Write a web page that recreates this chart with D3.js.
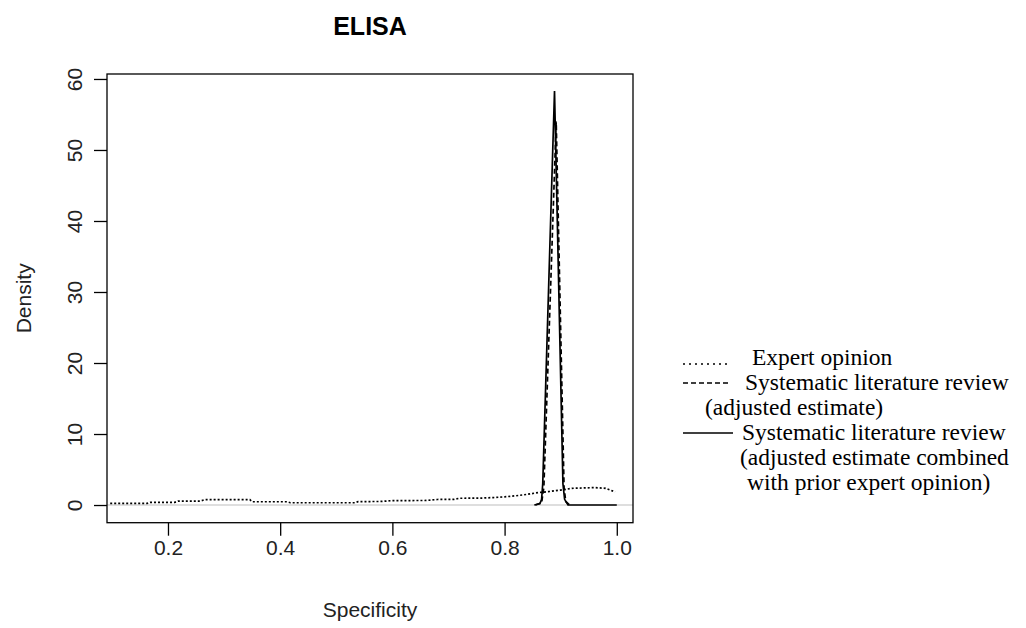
<!DOCTYPE html>
<html>
<head>
<meta charset="utf-8">
<script src="https://cdn.jsdelivr.net/npm/d3@7/dist/d3.min.js"></script>
<style>
  html, body { margin: 0; padding: 0; background: #fff; }
  svg { display: block; }
</style>
</head>
<body>
<svg id="chart" width="1026" height="628"></svg>
<script>
// Specificity values and densities for each prior/posterior
const expertX = [0.097, 0.163, 0.168, 0.212, 0.218, 0.257, 0.266, 0.346, 0.350, 0.412, 0.418, 0.533, 0.539, 0.58, 0.60, 0.66, 0.68, 0.71, 0.72, 0.76, 0.78, 0.80, 0.82, 0.84, 0.86, 0.88, 0.90, 0.92, 0.94, 0.96, 0.98, 0.997];
const expertY = [0.24, 0.24, 0.38, 0.38, 0.56, 0.56, 0.75, 0.75, 0.46, 0.46, 0.32, 0.32, 0.48, 0.50, 0.62, 0.64, 0.78, 0.80, 0.95, 0.98, 1.05, 1.15, 1.30, 1.50, 1.75, 1.90, 2.10, 2.35, 2.40, 2.45, 2.35, 1.85];

const litX = [0.855, 0.866, 0.870, 0.892, 0.906, 0.909, 0.916];
const litY = [0, 0.3, 2.5, 54.0, 2.5, 0.5, 0];

const combX = [0.853, 0.863, 0.866, 0.868, 0.889, 0.904, 0.907, 0.913, 1.0];
const combY = [0, 0.2, 0.8, 3.0, 58.3, 3.0, 0.8, 0, 0];

const xTicks = [0.2, 0.4, 0.6, 0.8, 1.0];
const yTicks = [0, 10, 20, 30, 40, 50, 60];

const titleText = "ELISA";
const xLabel = "Specificity";
const yLabel = "Density";

const legendItems = [
  { style: "dotted", lines: ["Expert opinion"] },
  { style: "dashed", lines: ["Systematic literature review", "(adjusted estimate)"] },
  { style: "solid",  lines: ["Systematic literature review", "(adjusted estimate combined", "with prior expert opinion)"] }
];

// Layout
const svg = d3.select("#chart");
const plotLeft = 107, plotRight = 633, plotTop = 74, plotBottom = 522.7;

const x = d3.scaleLinear().domain([0.0913, 1.0289]).range([plotLeft, plotRight]);
const y = d3.scaleLinear().domain([-2.49, 60.7]).range([plotBottom, plotTop]);

const dashes = { dotted: "2,2", dashed: "5,3", solid: null };

// Reference line at zero density
svg.append("line")
  .attr("x1", plotLeft).attr("x2", plotRight)
  .attr("y1", y(0)).attr("y2", y(0))
  .attr("stroke", "#bebebe").attr("stroke-width", 1.2);

const line = d3.line().x(d => x(d[0])).y(d => y(d[1]));

function drawCurve(xs, ys, style) {
  svg.append("path")
    .datum(xs.map((v, i) => [v, ys[i]]))
    .attr("d", line)
    .attr("fill", "none")
    .attr("stroke", "#000")
    .attr("stroke-width", 1.7)
    .attr("stroke-dasharray", dashes[style]);
}
drawCurve(expertX, expertY, "dotted");
drawCurve(combX, combY, "solid");
drawCurve(litX, litY, "dashed");

// Plot frame
svg.append("rect")
  .attr("x", plotLeft).attr("y", plotTop)
  .attr("width", plotRight - plotLeft).attr("height", plotBottom - plotTop)
  .attr("fill", "none").attr("stroke", "#000").attr("stroke-width", 1.3);

// Axes
const fontSans = "'Liberation Sans', Arial, sans-serif";
const xAxis = svg.append("g")
  .attr("transform", `translate(0,${plotBottom})`)
  .call(d3.axisBottom(x).tickValues(xTicks).tickFormat(d3.format(".1f")).tickSize(13).tickPadding(4));
xAxis.select(".domain").remove();
xAxis.selectAll("line").attr("stroke", "#000").attr("stroke-width", 1.3);
xAxis.selectAll("text").attr("font-size", 21).attr("fill", "#222").attr("font-family", fontSans);

const yAxis = svg.append("g")
  .attr("transform", `translate(${plotLeft},0)`)
  .call(d3.axisLeft(y).tickValues(yTicks).tickFormat(d3.format("d")).tickSize(13));
yAxis.select(".domain").remove();
yAxis.selectAll("line").attr("stroke", "#000").attr("stroke-width", 1.3);
yAxis.selectAll("text")
  .attr("font-size", 21).attr("fill", "#222").attr("font-family", fontSans)
  .attr("text-anchor", "middle")
  .attr("x", null).attr("dy", null)
  .attr("transform", "translate(-25,0) rotate(-90)");

// Titles
svg.append("text")
  .attr("x", (plotLeft + plotRight) / 2).attr("y", 35)
  .attr("text-anchor", "middle")
  .attr("font-family", fontSans).attr("font-weight", "bold").attr("font-size", 25)
  .text(titleText);

svg.append("text")
  .attr("x", (plotLeft + plotRight) / 2).attr("y", 617)
  .attr("text-anchor", "middle")
  .attr("font-family", fontSans).attr("font-size", 21).attr("fill", "#222")
  .text(xLabel);

svg.append("text")
  .attr("transform", `translate(31,${(plotTop + plotBottom) / 2}) rotate(-90)`)
  .attr("text-anchor", "middle")
  .attr("font-family", fontSans).attr("font-size", 21).attr("fill", "#222")
  .text(yLabel);

// Legend
const legend = svg.append("g").attr("font-family", "'Liberation Serif', 'Times New Roman', serif").attr("font-size", 23.5);
const lineStep = 25;
const firstBaseline = 365;
const sampleX0 = 683, sampleX1 = 730;
const textStarts = [[752], [745, 705], [742, 740, 747]];
let row = 0;
legendItems.forEach((item, k) => {
  const sy = item.style === "dotted" ? firstBaseline + row * lineStep - 1 : firstBaseline + row * lineStep - 7;
  legend.append("line")
    .attr("x1", sampleX0).attr("x2", sampleX1 + (k === 2 ? 3 : 0))
    .attr("y1", sy).attr("y2", sy)
    .attr("stroke", "#000").attr("stroke-width", 1.7)
    .attr("stroke-dasharray", item.style === "dotted" ? "2,4" : dashes[item.style]);
  item.lines.forEach((t, j) => {
    legend.append("text")
      .attr("x", textStarts[k][j])
      .attr("y", firstBaseline + (row + j) * lineStep)
      .text(t);
  });
  row += item.lines.length;
});
</script>
</body>
</html>
